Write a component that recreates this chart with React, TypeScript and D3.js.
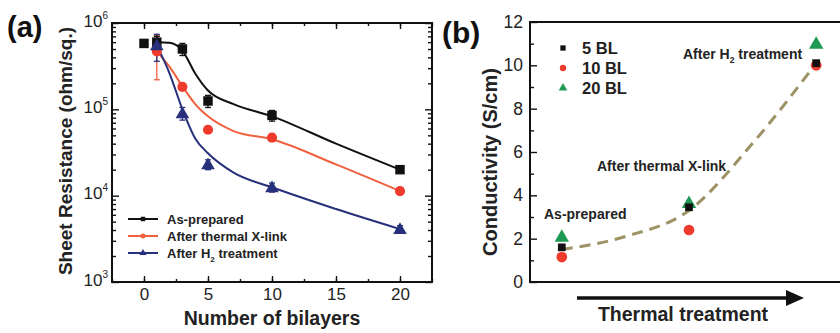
import React, { useEffect, useRef } from 'react';
import * as d3 from 'd3';

// panel (a): sheet resistance vs number of bilayers
const bilayers = [0, 1, 3, 5, 10, 20];
const asPrepared = [5.8e5, 6.0e5, 5.0e5, 1.25e5, 8.5e4, 2.0e4];
const asPreparedErr = [0.4e5, 1.0e5, 0.8e5, 0.2e5, 1.2e4, 1.5e3];
const treatedBL = [1, 3, 5, 10, 20];
const thermalXlink = [4.7e5, 1.82e5, 5.8e4, 4.7e4, 1.13e4];
const thermalErr = [2.5e5, 1.2e4, 4e3, 3e3, 8e2];
const h2Treated = [5.5e5, 9.0e4, 2.3e4, 1.25e4, 4.1e3];
const h2Err = [1.9e5, 1.5e4, 3e3, 1.5e3, 4e2];

// smooth guide curves
const fitX = [1, 2, 3, 4, 5, 7, 10, 15, 20];
const fitAsPrepared = [6.0e5, 5.9e5, 4.8e5, 2.6e5, 1.65e5, 1.15e5, 8.3e4, 4.0e4, 2.0e4];
const fitThermal = [4.7e5, 3.1e5, 1.85e5, 1.15e5, 8.3e4, 5.6e4, 4.5e4, 2.3e4, 1.13e4];
const fitH2 = [5.5e5, 2.6e5, 1.0e5, 4.6e4, 3.1e4, 1.85e4, 1.25e4, 7.0e3, 4.1e3];

const xTicksA = [0, 5, 10, 15, 20];
const yTicksA = [1e3, 1e4, 1e5, 1e6];

// panel (b): conductivity per stage
const stages = [0, 1, 2];
const stageLabels = ['As-prepared', 'After thermal X-link', 'After H2 treatment'];
const bl5 = [1.6, 3.45, 10.1];
const bl10 = [1.15, 2.4, 10.0];
const bl20 = [2.1, 3.65, 11.0];
const trendT = [0, 0.5, 1, 1.5, 2];
const trendV = [1.5, 2.1, 3.3, 6.4, 10.1];
const yTicksB = [0, 2, 4, 6, 8, 10, 12];

const FONT = 'Arial, "Liberation Sans", sans-serif';
const BLACK = '#111';
const RED = '#ee3b2b';
const RED_LINE = '#f0603f';
const BLUE = '#27307a';
const GREEN = '#1f9a55';
const KHAKI = '#9c9264';
const TEXT = '#222';

const App = () => {
  const ref = useRef<SVGSVGElement>(null);

  useEffect(() => {
    const svg = d3.select(ref.current);
    svg.selectAll('*').remove();

    // ---------- panel (a) ----------
    const ax = d3.scaleLinear().domain([-2.5, 22.5]).range([112, 432]);
    const ay = d3.scaleLog().domain([1e3, 1e6]).range([282, 23]);
    const ga = svg.append('g');

    const xMinorA = d3.range(-2.5, 22.6, 2.5);
    const yMinorA: number[] = [];
    [1e3, 1e4, 1e5].forEach(d => d3.range(2, 10).forEach(k => yMinorA.push(d * k)));

    const styleAxis = (g: any) => {
      g.select('.domain').remove();
      g.selectAll('line').attr('stroke', BLACK).attr('stroke-width', 1.4);
      g.selectAll('text').attr('font-family', FONT).attr('font-size', 17).attr('fill', TEXT);
    };

    ga.append('g').attr('transform', 'translate(0,282)')
      .call(d3.axisBottom(ax).tickValues(xMinorA).tickSize(-3).tickFormat(() => '')).call(styleAxis);
    ga.append('g').attr('transform', 'translate(0,282)')
      .call(d3.axisBottom(ax).tickValues(xTicksA).tickSize(-6).tickPadding(6).tickFormat(d3.format('d')))
      .call(styleAxis);
    ga.append('g').attr('transform', 'translate(0,23)')
      .call(d3.axisTop(ax).tickValues(xMinorA).tickSize(-3).tickFormat(() => '')).call(styleAxis);
    ga.append('g').attr('transform', 'translate(0,23)')
      .call(d3.axisTop(ax).tickValues(xTicksA).tickSize(-6).tickFormat(() => '')).call(styleAxis);
    ga.append('g').attr('transform', 'translate(112,0)')
      .call(d3.axisLeft(ay).tickValues(yMinorA).tickSize(-4).tickFormat(() => '')).call(styleAxis);
    const yAxA = ga.append('g').attr('transform', 'translate(112,0)')
      .call(d3.axisLeft(ay).tickValues(yTicksA).tickSize(-7).tickFormat(() => ''))
      .call(styleAxis);
    yAxA.selectAll('.tick').each(function (d: any) {
      const t = d3.select(this).append('text').attr('x', -4).attr('dy', '0.3em')
        .attr('text-anchor', 'end').attr('font-family', FONT).attr('fill', TEXT);
      t.append('tspan').attr('font-size', 17).text('10');
      t.append('tspan').attr('font-size', 10).attr('dy', '-0.8em').text(String(Math.round(Math.log10(d))));
    });
    ga.append('g').attr('transform', 'translate(432,0)')
      .call(d3.axisRight(ay).tickValues(yMinorA).tickSize(-4).tickFormat(() => '')).call(styleAxis);
    ga.append('g').attr('transform', 'translate(432,0)')
      .call(d3.axisRight(ay).tickValues(yTicksA).tickSize(-7).tickFormat(() => '')).call(styleAxis);

    ga.append('rect').attr('x', 112).attr('y', 23).attr('width', 320).attr('height', 259)
      .attr('fill', 'none').attr('stroke', BLACK).attr('stroke-width', 2);

    const lineA = d3.line<number>().x((_, i) => ax(fitX[i])).y(d => ay(d)).curve(d3.curveMonotoneX);
    [[fitAsPrepared, BLACK], [fitThermal, RED_LINE], [fitH2, BLUE]].forEach(([vals, c]) => {
      ga.append('path').attr('d', lineA(vals as number[])).attr('fill', 'none')
        .attr('stroke', c as string).attr('stroke-width', 2);
    });

    const errBars = (xs: number[], vs: number[], es: number[], c: string) => {
      xs.forEach((x, i) => {
        const px = ax(x);
        const y0 = ay(vs[i] - es[i]);
        const y1 = ay(vs[i] + es[i]);
        ga.append('line').attr('x1', px).attr('x2', px).attr('y1', y0).attr('y2', y1)
          .attr('stroke', c).attr('stroke-width', 1.3);
        [y0, y1].forEach(yy => ga.append('line').attr('x1', px - 3).attr('x2', px + 3)
          .attr('y1', yy).attr('y2', yy).attr('stroke', c).attr('stroke-width', 1.3));
      });
    };
    errBars(treatedBL, thermalXlink, thermalErr, RED_LINE);
    errBars(treatedBL, h2Treated, h2Err, BLUE);
    errBars(bilayers, asPrepared, asPreparedErr, BLACK);

    const sq = d3.symbol(d3.symbolSquare, 90);
    const ci = d3.symbol(d3.symbolCircle, 80);
    const tr = d3.symbol(d3.symbolTriangle, 80);
    ga.selectAll('.sqA').data(asPrepared).join('path').attr('d', sq())
      .attr('transform', (d, i) => `translate(${ax(bilayers[i])},${ay(d)})`).attr('fill', BLACK);
    ga.selectAll('.ciA').data(thermalXlink).join('path').attr('d', ci())
      .attr('transform', (d, i) => `translate(${ax(treatedBL[i])},${ay(d)})`).attr('fill', RED);
    ga.selectAll('.trA').data(h2Treated).join('path').attr('d', tr())
      .attr('transform', (d, i) => `translate(${ax(treatedBL[i])},${ay(d) + 1})`).attr('fill', BLUE);

    // legend (a)
    const legA = [
      { label: 'As-prepared', c: BLACK, s: d3.symbol(d3.symbolSquare, 20)() },
      { label: 'After thermal X-link', c: RED_LINE, s: d3.symbol(d3.symbolCircle, 20)() },
      { label: 'After H2 treatment', c: BLUE, s: d3.symbol(d3.symbolTriangle, 22)() },
    ];
    legA.forEach((l, i) => {
      const y = 219 + i * 17;
      ga.append('line').attr('x1', 128).attr('x2', 158).attr('y1', y).attr('y2', y)
        .attr('stroke', l.c).attr('stroke-width', 2);
      ga.append('path').attr('d', l.s).attr('transform', `translate(143,${y})`).attr('fill', l.c);
      const t = ga.append('text').attr('x', 167).attr('y', y + 5).attr('font-family', FONT)
        .attr('font-size', 13).attr('font-weight', 'bold').attr('fill', TEXT);
      if (l.label.includes('H2')) {
        t.append('tspan').text('After H');
        t.append('tspan').attr('font-size', 8).attr('dy', 4).text('2');
        t.append('tspan').attr('dy', -4).text(' treatment');
      } else t.text(l.label);
    });

    ga.append('text').attr('transform', 'translate(72,151) rotate(-90)').attr('text-anchor', 'middle')
      .attr('font-family', FONT).attr('font-size', 19).attr('font-weight', 'bold').attr('fill', TEXT)
      .text('Sheet Resistance (ohm/sq.)');
    ga.append('text').attr('x', 272).attr('y', 325).attr('text-anchor', 'middle')
      .attr('font-family', FONT).attr('font-size', 19.5).attr('font-weight', 'bold').attr('fill', TEXT)
      .text('Number of bilayers');
    ga.append('text').attr('x', 7).attr('y', 37).attr('font-family', FONT).attr('font-size', 29)
      .attr('font-weight', 'bold').attr('fill', '#111').text('(a)');

    // ---------- panel (b) ----------
    const bx = d3.scaleLinear().domain([-0.25, 2.25]).range([530, 848]);
    const by = d3.scaleLinear().domain([0, 12]).range([282, 22]);
    const gb = svg.append('g');

    gb.append('g').attr('transform', 'translate(530,0)')
      .call(d3.axisLeft(by).tickValues(d3.range(1, 12, 2)).tickSize(-4).tickFormat(() => '')).call(styleAxis);
    gb.append('g').attr('transform', 'translate(530,0)')
      .call(d3.axisLeft(by).tickValues(yTicksB).tickSize(-7).tickPadding(7)).call(styleAxis);
    gb.selectAll('.tick text').attr('font-size', 17.5);
    gb.append('rect').attr('x', 530).attr('y', 22).attr('width', 318).attr('height', 260)
      .attr('fill', 'none').attr('stroke', BLACK).attr('stroke-width', 2);

    const trend = d3.line<number>().x((_, i) => bx(trendT[i])).y(d => by(d)).curve(d3.curveMonotoneX);
    gb.append('path').attr('d', trend(trendV)).attr('fill', 'none').attr('stroke', KHAKI)
      .attr('stroke-width', 3).attr('stroke-dasharray', '11,7');

    const sqB = d3.symbol(d3.symbolSquare, 60);
    const ciB = d3.symbol(d3.symbolCircle, 90);
    const trB = d3.symbol(d3.symbolTriangle, 90);
    gb.selectAll('.ciB').data(bl10).join('path').attr('d', ciB())
      .attr('transform', (d, i) => `translate(${bx(stages[i])},${by(d)})`).attr('fill', RED);
    gb.selectAll('.trB').data(bl20).join('path').attr('d', trB())
      .attr('transform', (d, i) => `translate(${bx(stages[i])},${by(d) + 1})`).attr('fill', GREEN);
    gb.selectAll('.sqB').data(bl5).join('path').attr('d', sqB())
      .attr('transform', (d, i) => `translate(${bx(stages[i])},${by(d)})`).attr('fill', BLACK);

    // legend (b)
    const legB = [
      { label: '5 BL', c: BLACK, s: d3.symbol(d3.symbolSquare, 28)() },
      { label: '10 BL', c: RED, s: d3.symbol(d3.symbolCircle, 32)() },
      { label: '20 BL', c: GREEN, s: d3.symbol(d3.symbolTriangle, 32)() },
    ];
    legB.forEach((l, i) => {
      const y = 48 + i * 20;
      gb.append('path').attr('d', l.s).attr('transform', `translate(563,${y})`).attr('fill', l.c);
      gb.append('text').attr('x', 582).attr('y', y + 6).attr('font-family', FONT).attr('font-size', 16.5)
        .attr('font-weight', 'bold').attr('fill', TEXT).text(l.label);
    });

    // stage annotations
    const annot = [
      { x: 544, y: 219 },
      { x: 597, y: 171 },
      { x: 683, y: 59 },
    ];
    stageLabels.forEach((s, i) => {
      const t = gb.append('text').attr('x', annot[i].x).attr('y', annot[i].y).attr('font-family', FONT)
        .attr('font-size', 14).attr('font-weight', 'bold').attr('fill', TEXT);
      if (s.includes('H2')) {
        t.append('tspan').text('After H');
        t.append('tspan').attr('font-size', 8.5).attr('dy', 4).text('2');
        t.append('tspan').attr('dy', -4).text(' treatment');
      } else t.text(s);
    });

    // arrow
    gb.append('line').attr('x1', 577).attr('x2', 790).attr('y1', 298).attr('y2', 298)
      .attr('stroke', '#111').attr('stroke-width', 3.5);
    gb.append('path').attr('d', d3.line()([[786, 290], [804, 298], [786, 306]]) + 'Z').attr('fill', '#111');

    gb.append('text').attr('x', 683).attr('y', 321).attr('text-anchor', 'middle')
      .attr('font-family', FONT).attr('font-size', 19.5).attr('font-weight', 'bold').attr('fill', TEXT)
      .text('Thermal treatment');
    gb.append('text').attr('transform', 'translate(497,162) rotate(-90)').attr('text-anchor', 'middle')
      .attr('font-family', FONT).attr('font-size', 20).attr('font-weight', 'bold').attr('fill', TEXT)
      .text('Conductivity (S/cm)');
    gb.append('text').attr('x', 442).attr('y', 43).attr('font-family', FONT).attr('font-size', 30)
      .attr('font-weight', 'bold').attr('fill', '#111').text('(b)');
  }, []);

  return (
    <svg ref={ref} width={840} height={333}
      style={{ position: 'absolute', left: 0, top: 0, background: '#fff' }} />
  );
};

export default App;
